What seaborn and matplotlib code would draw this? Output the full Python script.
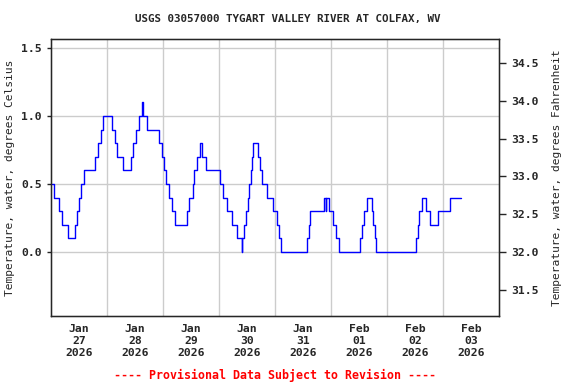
import numpy as np
import pandas as pd
import matplotlib
matplotlib.use("Agg")
import matplotlib.pyplot as plt
import seaborn as sns

sns.set_style("white")
plt.rcParams['font.family'] = ['DejaVu Sans Mono']
plt.rcParams['font.weight'] = 'bold'

# hours after 2026-01-27 00:00 where the reading changes, and the new value (deg C)
change_hours = [0.25, 1.43, 3.57, 4.71, 7.3, 10.43, 11.29, 12.14, 13.0, 14.29,
                19.0, 20.14, 21.29, 22.29, 26.29, 27.43, 28.43, 30.9, 34.29, 35.29,
                36.57, 37.86, 38.86, 39.43, 41.29, 46.43, 47.57, 48.43, 49.29, 50.43,
                51.86, 53.29, 58.14, 59.29, 60.71, 61.43, 62.43, 63.86, 64.86, 66.29,
                72.57, 73.86, 75.29, 77.43, 79.57, 81.71, 82.0, 82.71, 83.57, 84.57,
                85.0, 85.57, 86.29, 86.71, 88.86, 89.57, 90.57, 92.43, 95.29, 96.71,
                97.71, 98.71, 109.86, 110.43, 111.14, 116.86, 117.71, 118.0, 119.14, 121.0,
                122.14, 123.57, 132.57, 133.43, 134.14, 135.43, 137.43, 138.14, 138.86, 139.29,
                156.43, 157.14, 157.57, 159.0, 160.86, 162.43, 165.86, 171.14, 175.71]
temp_c = [0.5, 0.4, 0.3, 0.2, 0.1, 0.2, 0.3, 0.4, 0.5, 0.6,
          0.7, 0.8, 0.9, 1.0, 0.9, 0.8, 0.7, 0.6, 0.7, 0.8,
          0.9, 1.0, 1.1, 1.0, 0.9, 0.8, 0.7, 0.6, 0.5, 0.4,
          0.3, 0.2, 0.3, 0.4, 0.5, 0.6, 0.7, 0.8, 0.7, 0.6,
          0.5, 0.4, 0.3, 0.2, 0.1, 0.0, 0.1, 0.2, 0.3, 0.4,
          0.5, 0.6, 0.7, 0.8, 0.7, 0.6, 0.5, 0.4, 0.3, 0.2,
          0.1, 0.0, 0.1, 0.2, 0.3, 0.4, 0.3, 0.4, 0.3, 0.2,
          0.1, 0.0, 0.1, 0.2, 0.3, 0.4, 0.3, 0.2, 0.1, 0.0,
          0.1, 0.2, 0.3, 0.4, 0.3, 0.2, 0.3, 0.4, 0.4]

left_ticks = [0.0, 0.5, 1.0, 1.5]
right_ticks = [31.5, 32.0, 32.5, 33.0, 33.5, 34.0, 34.5]

start = pd.Timestamp("2026-01-27")
df = pd.DataFrame({
    "time": start + pd.to_timedelta(change_hours, unit="h"),
    "temp": temp_c,
})

fig = plt.figure(figsize=(5.76, 3.84), dpi=100)
ax = fig.add_axes([51 / 576, 1 - 316 / 384, 448 / 576, 277 / 384])

sns.lineplot(data=df, x="time", y="temp", ax=ax, color="#0000ff",
             linewidth=1.0, drawstyle="steps-post", estimator=None)

ylo, yhi = -0.471, 1.566
ax.set_ylim(ylo, yhi)
ax.set_xlim(start, start + pd.Timedelta(days=8))
ax.set_yticks(left_ticks)
ax.set_yticklabels([f"{v:.1f}" for v in left_ticks])

days = pd.date_range(start, periods=9, freq="D")
ax.set_xticks(days[1:-1])
ax.xaxis.set_major_formatter(plt.NullFormatter())
ax.set_xticks(days[:-1] + pd.Timedelta(hours=12), minor=True)
ax.set_xticklabels([d.strftime("%b\n%d\n%Y") for d in days[:-1]], minor=True)
ax.tick_params(axis="x", which="both", length=0, pad=6, labelsize=8.2)
ax.tick_params(axis="y", direction="out", length=3, width=1, labelsize=8.2)

ax.grid(True, which="major", color="#cccccc", linewidth=1.0)
ax.set_axisbelow(True)
for s in ax.spines.values():
    s.set_color("black")
    s.set_linewidth(1.0)

ax.set_xlabel("")
ax.set_ylabel("Temperature, water, degrees Celsius", fontsize=8.1)
ax.yaxis.set_label_coords((15 - 51) / 448, 0.5)

ax2 = ax.twinx()
ax2.set_ylim(ylo * 1.8 + 32, yhi * 1.8 + 32)
ax2.set_yticks(right_ticks)
ax2.set_yticklabels([f"{v:.1f}" for v in right_ticks])
ax2.tick_params(axis="y", direction="out", length=5, width=1, labelsize=8.2)
ax2.set_ylabel("Temperature, water, degrees Fahrenheit", fontsize=8.1)
ax2.yaxis.set_label_coords((552 - 51) / 448, 0.5)
ax2.grid(False)

fig.text(0.5, 1 - 19 / 384, "USGS 03057000 TYGART VALLEY RIVER AT COLFAX, WV",
         ha="center", va="center", fontsize=7.8, fontweight="bold")
fig.text(275 / 576, 1 - 375 / 384, "---- Provisional Data Subject to Revision ----",
         ha="center", va="center", fontsize=8.4, fontweight="bold", color="red")

fig.savefig("out.png", dpi=100)
